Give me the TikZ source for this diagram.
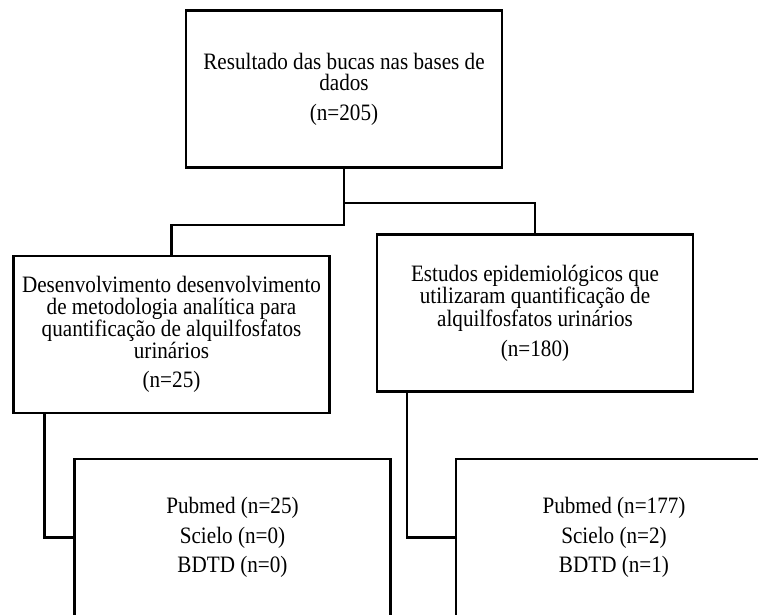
\documentclass[tikz,border=0pt]{standalone}
\usepackage{fontspec}
\setmainfont[FakeStretch=0.9]{Liberation Serif}
\usetikzlibrary{positioning,calc}

\begin{document}
\begin{tikzpicture}[x=1pt,y=-1pt]
\tikzset{every node/.style={font=\fontsize{23.5}{21.5}\selectfont}}
\tikzset{caixa/.style={draw,line width=2.4pt,align=center,inner sep=0pt,minimum width=316pt,minimum height=157pt}}
\tikzset{ligacao/.style={draw,line width=2.4pt}}
\clip (0,0) rectangle (758,614);
\node[caixa] (busca) at (344,89) {Resultado das bucas nas bases de\\dados\\[8pt](n=205)};
\node[caixa] (metodo) at (171.5,334.5) {Desenvolvimento desenvolvimento\\de metodologia analítica para\\quantificação de alquilfosfatos\\urinários\\[8pt](n=25)};
\node[caixa] (epidem) at (535,313) {Estudos epidemiológicos que\\utilizaram quantificação de\\alquilfosfatos urinários\\[8pt](n=180)};
\node[caixa] (basesA) at (232.5,537.5) {Pubmed (n=25)\\[8pt]Scielo (n=0)\\[8pt]BDTD (n=0)};
\node[caixa] (basesB) at (614,537.5) {Pubmed (n=177)\\[8pt]Scielo (n=2)\\[8pt]BDTD (n=1)};
\path[ligacao] (busca.south) -- ++(0,34) -| (epidem.north);
\path[ligacao] (busca.south) -- ++(0,56) -| (metodo.north);
\path[ligacao] ([xshift=32pt]metodo.south west) |- (basesA.west);
\path[ligacao] ([xshift=31pt]epidem.south west) |- (basesB.west);
\end{tikzpicture}
\end{document}
